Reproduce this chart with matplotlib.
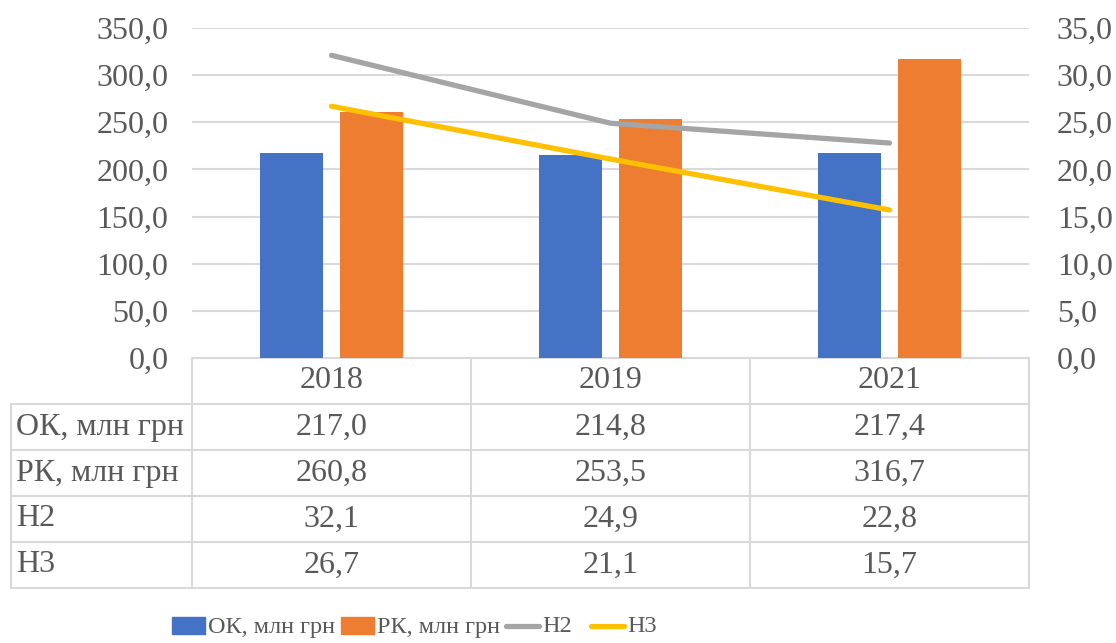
import matplotlib
matplotlib.use("Agg")
import matplotlib.pyplot as plt
from matplotlib.lines import Line2D
from matplotlib.patches import Rectangle

# ---- data ----
years = ["2018", "2019", "2021"]
ok_vals = [217.0, 214.8, 217.4]
rk_vals = [260.8, 253.5, 316.7]
h2_vals = [32.1, 24.9, 22.8]
h3_vals = [26.7, 21.1, 15.7]
series_names = ["ОК, млн грн", "РК, млн грн", "Н2", "Н3"]
left_ticks = [0, 50, 100, 150, 200, 250, 300, 350]
right_ticks = [0, 5, 10, 15, 20, 25, 30, 35]

C_BLUE = "#4472C4"
C_ORANGE = "#ED7D31"
C_GRAY = "#A5A5A5"
C_YELLOW = "#FFC000"
C_TEXT = "#595959"
C_GRID = "#D9D9D9"
FONT = "Liberation Serif"
FS = 23
FS_LEG = 17.5

W, H = 1116, 643
fig = plt.figure(figsize=(W / 100, H / 100), dpi=100)

# plot area in pixels
PX_L, PX_R, PX_T, PX_B = 192, 1029, 28, 358
ax = fig.add_axes([PX_L / W, 1 - PX_B / H, (PX_R - PX_L) / W, (PX_B - PX_T) / H])
ax2 = ax.twinx()

x = list(range(len(years)))
bw = 0.223
off = 0.143
ax.bar([i - off for i in x], ok_vals, width=bw, color=C_BLUE, zorder=2)
ax.bar([i + off for i in x], rk_vals, width=bw, color=C_ORANGE, zorder=2)
ax.set_xlim(-0.5, len(years) - 0.5)
ax.set_ylim(0, 350)
ax.set_yticks(left_ticks)
ax.set_yticklabels([f"{v:.1f}".replace(".", ",") for v in left_ticks],
                   fontfamily=FONT, fontsize=FS, color=C_TEXT)
ax.yaxis.grid(True, color=C_GRID, linewidth=1.5, zorder=0)
ax.set_axisbelow(True)
ax.set_xticks([])
for s in ax.spines.values():
    s.set_visible(False)
ax.tick_params(axis="y", length=0, pad=17)

ax2.plot(x, h2_vals, color=C_GRAY, linewidth=3.8, solid_capstyle="round", zorder=3)
ax2.plot(x, h3_vals, color=C_YELLOW, linewidth=3.8, solid_capstyle="round", zorder=3)
ax2.set_ylim(0, 35)
ax2.set_yticks(right_ticks)
ax2.set_yticklabels([f"{v:.1f}".replace(".", ",") for v in right_ticks],
                    fontfamily=FONT, fontsize=FS, color=C_TEXT)
ax2.tick_params(axis="y", length=0, pad=20)
for s in ax2.spines.values():
    s.set_visible(False)
ax.set_zorder(1)
ax2.set_zorder(2)
ax2.patch.set_visible(False)

# ---- overlay for table and legend (pixel coordinates) ----
ov = fig.add_axes([0, 0, 1, 1])
ov.set_xlim(0, W)
ov.set_ylim(H, 0)
ov.axis("off")
ov.patch.set_visible(False)

col_w = (PX_R - PX_L) / len(years)
col_edges = [PX_L + i * col_w for i in range(len(years) + 1)]
TBL_L = 11
row_edges = [PX_B, 404, 450, 496, 542, 588]
lw = 1.5
ov.add_line(Line2D([PX_L, PX_R], [PX_B, PX_B], color=C_GRID, lw=lw))
for xe in col_edges:
    ov.add_line(Line2D([xe, xe], [PX_B, row_edges[-1]], color=C_GRID, lw=lw))
ov.add_line(Line2D([TBL_L, TBL_L], [row_edges[1], row_edges[-1]], color=C_GRID, lw=lw))
for ye in row_edges[1:]:
    ov.add_line(Line2D([TBL_L, PX_R], [ye, ye], color=C_GRID, lw=lw))

for i, yr in enumerate(years):
    cx = (col_edges[i] + col_edges[i + 1]) / 2
    cy = (row_edges[0] + row_edges[1]) / 2
    ov.text(cx, cy, yr, ha="center", va="center", fontfamily=FONT, fontsize=FS, color=C_TEXT)

rows = [ok_vals, rk_vals, h2_vals, h3_vals]
for r, (name, vals) in enumerate(zip(series_names, rows)):
    cy = (row_edges[r + 1] + row_edges[r + 2]) / 2
    ov.text(TBL_L + 5, cy, name, ha="left", va="center", fontfamily=FONT, fontsize=FS, color=C_TEXT)
    for i, v in enumerate(vals):
        cx = (col_edges[i] + col_edges[i + 1]) / 2
        ov.text(cx, cy, f"{v:.1f}".replace(".", ","), ha="center", va="center",
                fontfamily=FONT, fontsize=FS, color=C_TEXT)

# ---- legend ----
LY = 626
leg_items = [
    ("patch", C_BLUE, series_names[0], 172, 208),
    ("patch", C_ORANGE, series_names[1], 341, 377),
    ("line", C_GRAY, series_names[2], 504, 542),
    ("line", C_YELLOW, series_names[3], 589, 627),
]
for kind, col, label, x0, tx in leg_items:
    if kind == "patch":
        ov.add_patch(Rectangle((x0, LY - 9), 33, 17, color=col))
    else:
        ov.add_line(Line2D([x0 + 2, x0 + 35], [LY, LY], color=col, lw=3.8, solid_capstyle="round"))
    ov.text(tx, LY + 1, label, ha="left", va="center", fontfamily=FONT, fontsize=FS_LEG, color=C_TEXT)

fig.savefig("out.png", dpi=100, facecolor="white")
